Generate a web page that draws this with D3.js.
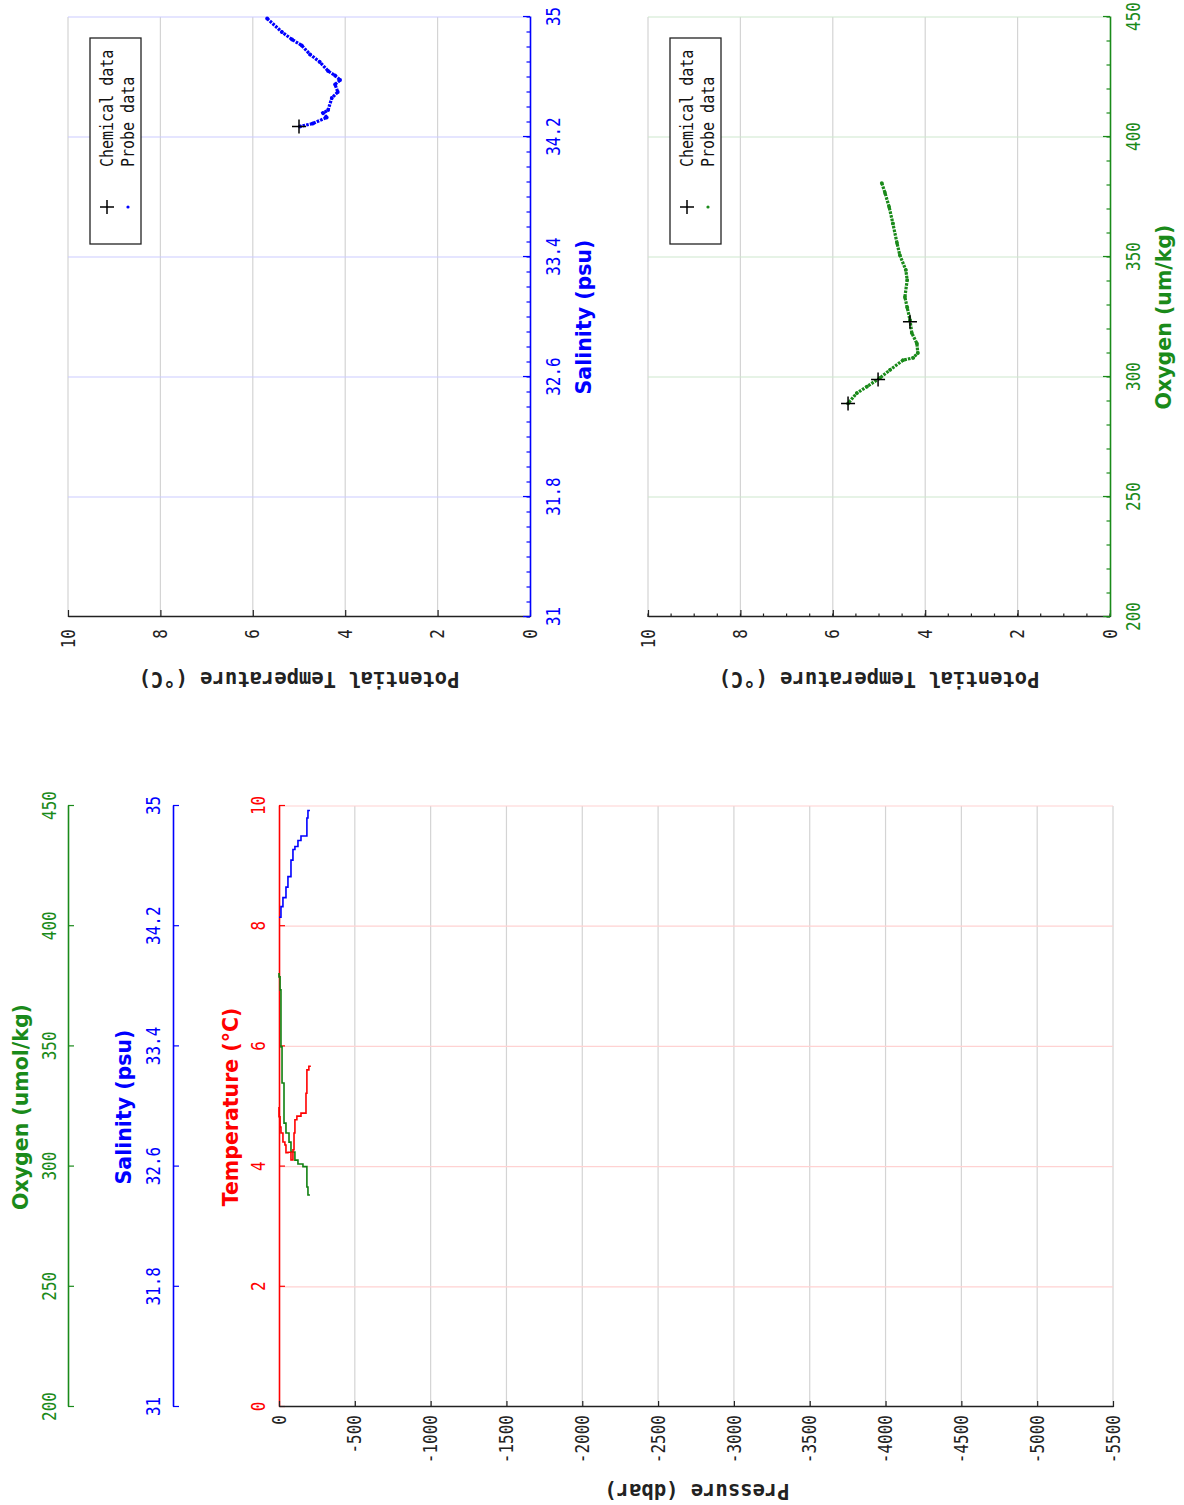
<!DOCTYPE html>
<html><head><meta charset="utf-8">
<script src="https://cdn.jsdelivr.net/npm/d3@7"></script>
<style>body{margin:0;background:#fff}svg{display:block}</style>
</head><body>
<svg id="c" width="1184" height="1505"></svg>
<script>
// ---------- tick labels ----------
const tempTicks = [0, 2, 4, 6, 8, 10];
const salTicks = [31, 31.8, 32.6, 33.4, 34.2, 35];
const oxTicks = [200, 250, 300, 350, 400, 450];
const presTicks = [0, -500, -1000, -1500, -2000, -2500, -3000, -3500, -4000, -4500, -5000, -5500];

// ---------- profile data (pressure in dbar, negative downward) ----------
const profTempP = [0, -7, -13, -26, -39, -46, -59, -79, -92, -99, -105, -118, -145, -178, -184, -197, -210];
const profTempV = [4.99, 4.83, 4.66, 4.56, 4.41, 4.36, 4.23, 4.24, 4.11, 4.28, 4.56, 4.78, 4.84, 4.89, 5.22, 5.61, 5.67];

const profSalP = [0, -13, -26, -46, -59, -79, -92, -105, -125, -145, -184, -191, -204];
const profSalV = [34.26, 34.26, 34.33, 34.39, 34.46, 34.53, 34.64, 34.71, 34.73, 34.77, 34.80, 34.92, 34.97];

const profOxP = [0, -7, -13, -20, -33, -46, -66, -79, -105, -125, -158, -184, -191, -204];
const profOxV = [380.5, 378.9, 373.5, 349.8, 334.8, 318.1, 314, 310.2, 306.1, 302.7, 301.1, 300, 291.5, 288.2];

// ---------- theta-S probe data ----------
const tsTheta = [5.69, 5.37, 5.15, 4.94, 4.76, 4.55, 4.37, 4.22, 4.11, 4.22, 4.16, 4.29, 4.37, 4.48, 4.40, 4.70, 4.98];
const tsSal   = [34.99, 34.90, 34.85, 34.81, 34.75, 34.70, 34.64, 34.61, 34.58, 34.55, 34.50, 34.46, 34.38, 34.36, 34.33, 34.29, 34.27];
const chemSalTheta = [5.0];
const chemSal = [34.27];

// ---------- theta-O2 probe data ----------
const toTheta = [4.94, 4.87, 4.78, 4.70, 4.61, 4.55, 4.42, 4.39, 4.44, 4.39, 4.33, 4.29, 4.18, 4.16, 4.26, 4.48, 4.76, 4.98, 5.26, 5.48, 5.67];
const toOx    = [380.8, 376.7, 370.8, 364, 355.8, 350.8, 344.6, 340.4, 333.3, 329, 323.8, 318.3, 314, 310, 308, 307, 303, 299.6, 296, 293.3, 289];
const chemOxTheta = [4.33, 5.02, 5.67];
const chemOx = [323, 299, 289];

const legendLabels = ["Chemical data", "Probe data"];

// ---------- styles ----------
const MONO = "'DejaVu Sans Mono', monospace";
const SANS = "'DejaVu Sans', sans-serif";
const RED = "#ff0000", BLUE = "#0000ff", GREEN = "#1a8a1a", BLACK = "#222";
const TICKF = 16, TITLEF = 20.5, CTITLEF = 20.5, LEGF = 15, STRETCH = 1.2;
const fmt = d => String(d);

const svg = d3.select("#c");
// chart is laid out landscape (1505 x 1184) then turned a quarter counter-clockwise
const g = svg.append("g").attr("transform", "translate(0,1505) rotate(-90)");

function styleAxis(sel, color) {
  sel.attr("color", color).attr("font-family", MONO).attr("font-size", TICKF);
  sel.selectAll(".tick line").attr("stroke-width", 1.2);
  sel.select(".domain").attr("stroke-width", 1.6);
  sel.selectAll(".tick text").each(function () {
    const t = d3.select(this);
    const x = +t.attr("x") || 0, y = +t.attr("y") || 0;
    t.attr("x", 0).attr("y", 0).attr("transform", `translate(${x},${y}) scale(1,${STRETCH})`);
  });
}
function title(x, y, text, color, rot) {
  const colored = color !== BLACK;
  return g.append("text")
    .attr("transform", `translate(${x},${y})` + (rot ? " rotate(-90)" : ""))
    .attr("text-anchor", "middle").attr("font-family", colored ? SANS : MONO)
    .attr("font-weight", "bold").attr("font-size", colored ? CTITLEF : TITLEF)
    .attr("fill", color).text(text);
}

// ================= PROFILE PLOT =================
const pxT = d3.scaleLinear([0, 10], [98, 699]);
const pxS = d3.scaleLinear([31, 35], [98, 699]);
const pxO = d3.scaleLinear([200, 450], [98, 699]);
const pyP = d3.scaleLinear([0, -5500], [279, 1113]);

g.append("g").selectAll("line").data(presTicks.slice(1)).join("line")
  .attr("x1", 98).attr("x2", 699).attr("y1", d => pyP(d)).attr("y2", d => pyP(d))
  .attr("stroke", "#d4d4d4").attr("stroke-width", 1.2);
g.append("g").selectAll("line").data(tempTicks.slice(1)).join("line")
  .attr("x1", d => pxT(d)).attr("x2", d => pxT(d)).attr("y1", 279).attr("y2", 1113)
  .attr("stroke", "#ffd2d2").attr("stroke-width", 1.2);

styleAxis(g.append("g").attr("transform", "translate(0,279)")
  .call(d3.axisTop(pxT).tickValues(tempTicks).tickFormat(fmt).tickSizeInner(-6).tickSizeOuter(0).tickPadding(14)), RED);
styleAxis(g.append("g").attr("transform", "translate(0,173)")
  .call(d3.axisTop(pxS).tickValues(salTicks).tickFormat(fmt).tickSizeInner(-6).tickSizeOuter(0).tickPadding(13)), BLUE);
styleAxis(g.append("g").attr("transform", "translate(0,68)")
  .call(d3.axisTop(pxO).tickValues(oxTicks).tickFormat(fmt).tickSizeInner(-6).tickSizeOuter(0).tickPadding(12)), GREEN);
styleAxis(g.append("g").attr("transform", "translate(98,0)")
  .call(d3.axisLeft(pyP).tickValues(presTicks).tickFormat(fmt).tickSizeInner(-6).tickSizeOuter(0).tickPadding(8)), BLACK);

title(398, 238, "Temperature (°C)", RED);
title(398, 131, "Salinity (psu)", BLUE);
title(398, 28, "Oxygen (umol/kg)", GREEN);
title(21, 697, "Pressure (dbar)", BLACK, true);

function profLine(ps, vs, xs, color) {
  const pts = ps.map((p, i) => [xs(vs[i]), pyP(p)]);
  g.append("path").attr("d", d3.line().curve(d3.curveStepAfter)(pts)).attr("fill", "none")
    .attr("stroke", color).attr("stroke-width", 1.6);
}
profLine(profSalP, profSalV, pxS, BLUE);
profLine(profOxP, profOxV, pxO, "#108010");
profLine(profTempP, profTempV, pxT, RED);

// ================= THETA-S / THETA-O2 PLOTS =================
function tsPlot(opts) {
  const { xScale, yScale, xTicks, xMinor, yMinor, gridColor, color, xTitle, px, py, chemY, chemX, legendY } = opts;
  const [x0, x1] = xScale.range();
  const [yb, yt] = yScale.range();
  g.append("g").selectAll("line").data(tempTicks.slice(1)).join("line")
    .attr("x1", x0).attr("x2", x1).attr("y1", d => yScale(d)).attr("y2", d => yScale(d))
    .attr("stroke", "#d4d4d4").attr("stroke-width", 1.2);
  g.append("g").selectAll("line").data(xTicks.slice(1)).join("line")
    .attr("x1", d => xScale(d)).attr("x2", d => xScale(d)).attr("y1", yt).attr("y2", yb)
    .attr("stroke", gridColor).attr("stroke-width", 1.2);
  g.append("g").selectAll("line").data(xMinor).join("line")
    .attr("x1", d => xScale(d)).attr("x2", d => xScale(d)).attr("y1", yb).attr("y2", yb - 3.5)
    .attr("stroke", color).attr("stroke-width", 1.2);
  if (yMinor) g.append("g").selectAll("line").data(yMinor).join("line")
    .attr("x1", x0).attr("x2", x0 + 3.5).attr("y1", d => yScale(d)).attr("y2", d => yScale(d))
    .attr("stroke", BLACK).attr("stroke-width", 1.2);
  styleAxis(g.append("g").attr("transform", `translate(${x0},0)`)
    .call(d3.axisLeft(yScale).tickValues(tempTicks).tickFormat(fmt).tickSizeInner(-7).tickSizeOuter(0).tickPadding(12)), BLACK);
  styleAxis(g.append("g").attr("transform", `translate(0,${yb})`)
    .call(d3.axisBottom(xScale).tickValues(xTicks).tickFormat(fmt).tickSizeInner(-7).tickSizeOuter(0).tickPadding(16)), color);
  title((x0 + x1) / 2, yb + 61, xTitle, color);
  title(833, (yb + yt) / 2, "Potential Temperature (°C)", BLACK, true);

  const pts = px.map((v, i) => [xScale(v), yScale(py[i])]);
  g.append("path").attr("d", d3.line()(pts)).attr("fill", "none")
    .attr("stroke", color).attr("stroke-width", 3.2).attr("stroke-dasharray", "2.6,1.1");
  g.append("g").selectAll("circle").data(pts).join("circle")
    .attr("cx", d => d[0]).attr("cy", d => d[1]).attr("r", 1.9).attr("fill", color);
  g.append("g").selectAll("path").data(chemX.map((v, i) => [xScale(v), yScale(chemY[i])])).join("path")
    .attr("d", d => `M${d[0] - 7},${d[1]}H${d[0] + 7}M${d[0]},${d[1] - 7}V${d[1] + 7}`)
    .attr("stroke", "#000").attr("stroke-width", 1.5).attr("fill", "none");

  const lg = g.append("g").attr("transform", `translate(1261,${legendY})`);
  lg.append("rect").attr("x", 0).attr("y", 0).attr("width", 206).attr("height", 51)
    .attr("fill", "#fff").attr("stroke", "#222").attr("stroke-width", 1.3);
  lg.append("path").attr("d", "M30,17H44M37,10V24").attr("stroke", "#000").attr("stroke-width", 1.5);
  lg.append("circle").attr("cx", 37).attr("cy", 38).attr("r", 1.6).attr("fill", color);
  lg.selectAll("text").data(legendLabels).join("text")
    .attr("transform", (d, i) => `translate(77,${23 + i * 21}) scale(1,${STRETCH})`)
    .attr("font-family", MONO).attr("font-size", LEGF).attr("fill", "#111").text(d => d);
}

tsPlot({
  xScale: d3.scaleLinear([31, 35], [888, 1488]),
  yScale: d3.scaleLinear([0, 10], [530, 68]),
  xTicks: salTicks, xMinor: d3.range(31, 35.001, 0.1), yMinor: null,
  gridColor: "#ccccff", color: BLUE, xTitle: "Salinity (psu)",
  px: tsSal, py: tsTheta, chemX: chemSal, chemY: chemSalTheta, legendY: 90
});
tsPlot({
  xScale: d3.scaleLinear([200, 450], [888, 1488]),
  yScale: d3.scaleLinear([0, 10], [1110, 648]),
  xTicks: oxTicks, xMinor: d3.range(200, 451, 10), yMinor: d3.range(0, 10.01, 0.5),
  gridColor: "#cde8cd", color: GREEN, xTitle: "Oxygen (um/kg)",
  px: toOx, py: toTheta, chemX: chemOx, chemY: chemOxTheta, legendY: 670
});
</script>
</body></html>
